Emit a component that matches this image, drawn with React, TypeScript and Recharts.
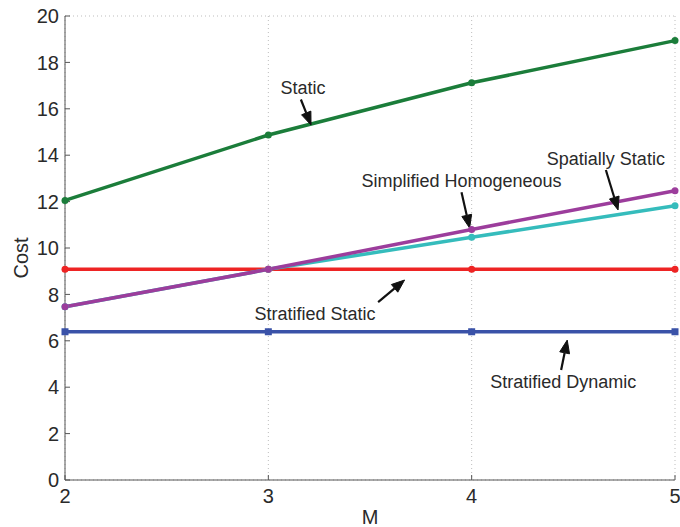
import React from 'react';
import {
  LineChart, Line, XAxis, YAxis, CartesianGrid, ReferenceLine, ReferenceDot,
} from 'recharts';

const mValues = [2, 3, 4, 5];
const staticCost = [12.05, 14.87, 17.12, 18.94];
const simplifiedHomogeneous = [7.47, 9.08, 10.8, 12.47];
const spatiallyStatic = [7.47, 9.08, 10.46, 11.82];
const stratifiedStatic = [9.08, 9.08, 9.08, 9.08];
const stratifiedDynamic = [6.39, 6.39, 6.39, 6.39];
const xTicks = [2, 3, 4, 5];
const yTicks = [0, 2, 4, 6, 8, 10, 12, 14, 16, 18, 20];

// annotations: text anchor (data coords) and arrow from -> to (data coords)
const annotationTexts = ['Static', 'Simplified Homogeneous', 'Spatially Static', 'Stratified Static', 'Stratified Dynamic'];
const annotationTextX = [3.17, 3.95, 4.66, 3.23, 4.45];
const annotationTextY = [16.9, 12.89, 13.84, 7.16, 4.22];
const arrowFromX = [3.16, 3.95, 4.66, 3.54, 4.44];
const arrowFromY = [16.4, 12.4, 13.36, 7.67, 4.74];
const arrowToX = [3.21, 3.99, 4.72, 3.67, 4.47];
const arrowToY = [15.3, 10.86, 11.64, 8.62, 6.03];

const data = mValues.map((m, i) => ({
  m,
  staticCost: staticCost[i],
  simplifiedHomogeneous: simplifiedHomogeneous[i],
  spatiallyStatic: spatiallyStatic[i],
  stratifiedStatic: stratifiedStatic[i],
  stratifiedDynamic: stratifiedDynamic[i],
}));

const FONT = '"Liberation Sans", Arial, Helvetica, sans-serif';
const TEXT_COLOR = '#2a2a2a';

const Arrow = (props: any) => {
  const { x1, y1, x2, y2 } = props;
  if ([x1, y1, x2, y2].some((v) => typeof v !== 'number' || isNaN(v))) return null;
  const dx = x2 - x1;
  const dy = y2 - y1;
  const len = Math.sqrt(dx * dx + dy * dy) || 1;
  const ux = dx / len;
  const uy = dy / len;
  const headLen = 13;
  const headW = 5;
  const bx = x2 - ux * headLen;
  const by = y2 - uy * headLen;
  const px = -uy;
  const py = ux;
  const pts = `${x2},${y2} ${bx + px * headW},${by + py * headW} ${bx - px * headW},${by - py * headW}`;
  return (
    <g>
      <line x1={x1} y1={y1} x2={bx} y2={by} stroke="#111" strokeWidth={2.2} />
      <polygon points={pts} fill="#111" stroke="#111" strokeWidth={1} />
    </g>
  );
};

const makeTextShape = (label: string) => (props: any) => {
  const { cx, cy } = props;
  return (
    <text x={cx} y={cy} textAnchor="middle" dominantBaseline="central" fontSize={18} fontFamily={FONT} fill={TEXT_COLOR}>
      {label}
    </text>
  );
};

const dot = (color: string, square = false) => (props: any) => {
  const { cx, cy } = props;
  if (square) return <rect x={cx - 3.5} y={cy - 3.5} width={7} height={7} fill={color} />;
  return <circle cx={cx} cy={cy} r={3.5} fill={color} />;
};

const tickStyle = { fontSize: 20, fontFamily: FONT, fill: TEXT_COLOR };

export default function App() {
  return (
    <div style={{ position: 'absolute', left: 0, top: 0, background: '#fff' }}>
      <LineChart width={680} height={527} data={data} margin={{ top: 16, right: 5, bottom: 0, left: 0 }}>
        <CartesianGrid stroke="#bdbdbd" strokeDasharray="1 3" strokeWidth={1} />
        <XAxis
          xAxisId="b"
          dataKey="m"
          type="number"
          domain={[2, 5]}
          ticks={xTicks}
          height={47}
          stroke="#555"
          tickSize={-5}
          tickMargin={14}
          tick={tickStyle}
          label={(p: any) => {
            const vb = p.viewBox;
            return (
              <text x={vb.x + vb.width / 2} y={524} textAnchor="middle" fontSize={20} fontFamily={FONT} fill={TEXT_COLOR}>M</text>
            );
          }}
        />
        <XAxis
          xAxisId="t"
          dataKey="m"
          type="number"
          orientation="top"
          domain={[2, 5]}
          ticks={xTicks}
          height={0}
          stroke="#555"
          tickSize={-5}
          tickFormatter={() => ''}
        />
        <YAxis
          yAxisId="l"
          type="number"
          domain={[0, 20]}
          ticks={yTicks}
          width={65}
          stroke="#555"
          tickSize={-5}
          tickMargin={11}
          tick={tickStyle}
          label={(p: any) => {
            const vb = p.viewBox;
            const cx = 21;
            const cy = vb.y + vb.height / 2 + 10;
            return (
              <text x={cx} y={cy} textAnchor="middle" dominantBaseline="central" transform={`rotate(-90 ${cx} ${cy})`} fontSize={20} fontFamily={FONT} fill={TEXT_COLOR}>Cost</text>
            );
          }}
        />
        <YAxis
          yAxisId="r"
          type="number"
          orientation="right"
          domain={[0, 20]}
          ticks={yTicks}
          width={0}
          stroke="#555"
          tickSize={-5}
          tickFormatter={() => ''}
        />
        <Line xAxisId="b" yAxisId="l" dataKey="stratifiedDynamic" stroke="#3a52a8" strokeWidth={3.5} dot={dot('#3a52a8', true)} isAnimationActive={false} />
        <Line xAxisId="b" yAxisId="l" dataKey="stratifiedStatic" stroke="#ee2424" strokeWidth={3.5} dot={dot('#ee2424')} isAnimationActive={false} />
        <Line xAxisId="b" yAxisId="l" dataKey="spatiallyStatic" stroke="#35bcbc" strokeWidth={3.5} dot={dot('#35bcbc')} isAnimationActive={false} />
        <Line xAxisId="b" yAxisId="l" dataKey="simplifiedHomogeneous" stroke="#9c3d9c" strokeWidth={3.5} dot={dot('#9c3d9c')} isAnimationActive={false} />
        <Line xAxisId="b" yAxisId="l" dataKey="staticCost" stroke="#1b7d3a" strokeWidth={3.5} dot={dot('#1b7d3a')} isAnimationActive={false} />
        {annotationTexts.map((t, i) => (
          <ReferenceLine
            key={`a${i}`}
            xAxisId="b"
            yAxisId="l"
            segment={[{ x: arrowFromX[i], y: arrowFromY[i] }, { x: arrowToX[i], y: arrowToY[i] }]}
            shape={Arrow}
          />
        ))}
        {annotationTexts.map((t, i) => (
          <ReferenceDot
            key={`t${i}`}
            xAxisId="b"
            yAxisId="l"
            x={annotationTextX[i]}
            y={annotationTextY[i]}
            r={0}
            shape={makeTextShape(t)}
          />
        ))}
      </LineChart>
    </div>
  );
}
